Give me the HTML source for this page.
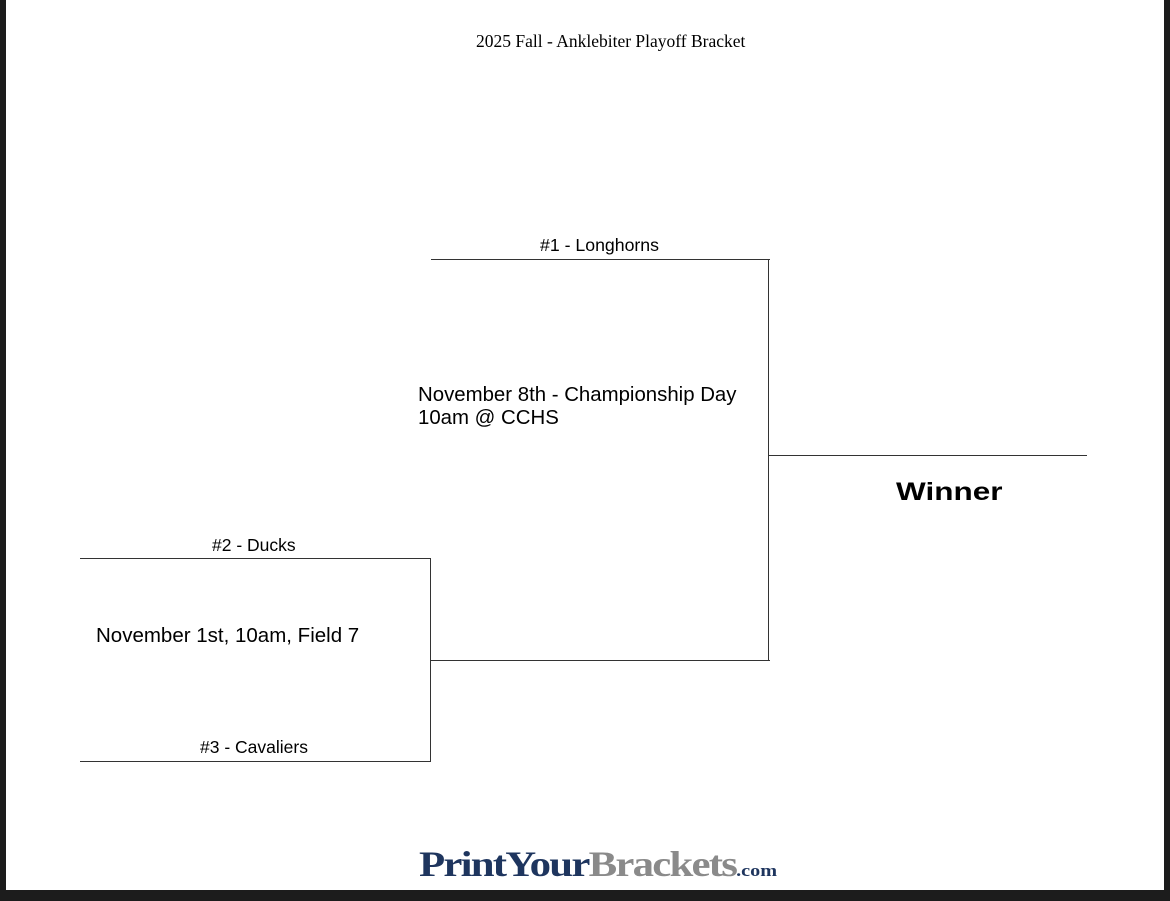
<!DOCTYPE html>
<html><head><style>
html,body{margin:0;padding:0}
body{width:1170px;height:901px;background:#1c1c1c;position:relative;overflow:hidden;font-family:"Liberation Sans",sans-serif}
.page{position:absolute;left:6px;top:0;width:1158px;height:890px;background:#fff}
.t{position:absolute;white-space:nowrap;color:#000}
.h{position:absolute;height:0;border-top:1.5px solid #333}
.v{position:absolute;width:0;border-left:1.5px solid #333}
</style></head><body>
<div class="page"></div>
<div class="t" style="left:476px;top:31px;font-family:'Liberation Serif',serif;font-size:17.5px">2025 Fall - Anklebiter Playoff Bracket</div>
<div class="t" style="left:540px;top:235px;font-size:17.7px">#1 - Longhorns</div>
<div class="h" style="left:431px;top:259px;width:339px"></div>
<div class="v" style="left:768px;top:259px;height:402px"></div>
<div class="h" style="left:769px;top:455px;width:318px"></div>
<div class="t" style="left:418px;top:384px;font-size:20.4px;line-height:23px">November 8th - Championship Day<br>10am @ CCHS</div>
<div class="t" style="left:896px;top:478px;font-size:25px;font-weight:900;transform:scaleX(1.26);transform-origin:0 0">Winner</div>
<div class="t" style="left:212px;top:535px;font-size:17.5px">#2 - Ducks</div>
<div class="h" style="left:80px;top:558px;width:351px"></div>
<div class="v" style="left:430px;top:558px;height:204px"></div>
<div class="h" style="left:431px;top:660px;width:339px"></div>
<div class="t" style="left:96px;top:624px;font-size:20.5px">November 1st, 10am, Field 7</div>
<div class="t" style="left:200px;top:737px;font-size:17.5px">#3 - Cavaliers</div>
<div class="h" style="left:80px;top:761px;width:351px"></div>
<div class="t" style="left:419px;top:843px;font-family:'Liberation Serif',serif;font-size:36px;font-weight:bold;letter-spacing:-1.5px;transform:scaleX(1.19);transform-origin:0 0"><span style="color:#1e355e">PrintYour</span><span style="color:#8a8a8a">Brackets</span><span style="color:#1e355e;font-size:17px;letter-spacing:0">.com</span></div>
</body></html>
